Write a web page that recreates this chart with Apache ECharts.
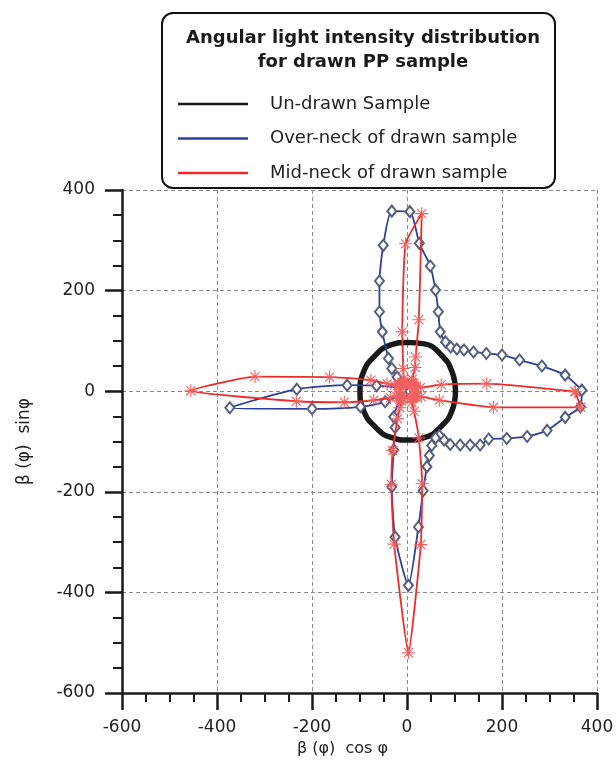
<!DOCTYPE html>
<html>
<head>
<meta charset="utf-8">
<script src="https://cdn.jsdelivr.net/npm/echarts@6/dist/echarts.min.js"></script>
<style>
  html, body { margin: 0; padding: 0; background: #fff; }
  #chart { width: 616px; height: 764px; }
</style>
</head>
<body>
<div id="chart"></div>
<script>
// axis range (both axes share it)
var axisMin = -600;
var axisMax = 400;
var axisStep = 200;

var seriesNames = ['Un-drawn Sample', 'Over-neck of drawn sample', 'Mid-neck of drawn sample'];

// un-drawn sample, roughly round
var undrawn = [
  [102, 0], [95, 38], [72, 72], [37, 94], [2, 97], [-34, 92], [-70, 68], [-92, 37],
  [-99, 0], [-92, -37], [-68, -70], [-34, -92], [2, -97], [38, -92], [72, -70], [95, -38],
  [102, 0]
];

// over-neck, traced clockwise from the right tip
var overNeck = [
  [368, 2], [365, -31], [333, -52], [295, -78], [253, -90], [210, -94], [172, -95],
  [154, -107], [133, -107], [112, -107], [91, -106], [78, -97], [68, -88], [60, -93],
  [52, -108], [47, -128], [42, -150], [34, -198], [24, -270], [3, -386], [-25, -290],
  [-32, -190], [-28, -117], [-25, -72], [-28, -51], [-8, -6], [-46, -21], [-98, -31],
  [-200, -35], [-373, -33], [-232, 4], [-126, 12], [-64, 11], [-8, 6], [-21, 28],
  [-32, 45], [-39, 65], [-52, 118], [-58, 158], [-58, 219], [-50, 290], [-32, 358],
  [6, 357], [26, 294], [49, 249], [60, 201], [66, 158], [70, 118], [81, 98], [92, 88],
  [105, 84], [120, 82], [140, 78], [167, 75], [200, 72], [237, 62], [284, 50], [333, 32],
  [368, 2]
];

// mid-neck, counter-clockwise from 0 deg
var midNeck = [
  [354, -1], [168, 15], [72, 13], [28, 7], [18, 7], [15, 7], [15, 9], [14, 11],
  [13, 12], [12, 13], [11, 14], [10, 16], [10, 18], [11, 24], [17, 47], [18, 68],
  [25, 142], [31, 353], [-3, 293], [-10, 118], [-8, 45], [-7, 25], [-7, 19], [-8, 17],
  [-9, 15], [-10, 14], [-11, 13], [-12, 12], [-14, 12], [-16, 11], [-19, 11], [-26, 12],
  [-42, 15], [-76, 22], [-163, 28], [-320, 29], [-455, 1], [-233, -20], [-132, -22], [-70, -18],
  [-35, -13], [-22, -10], [-17, -10], [-14, -10], [-13, -11], [-12, -12], [-11, -13], [-11, -16],
  [-11, -20], [-15, -33], [-20, -55], [-30, -118], [-33, -185], [-27, -304], [3, -520], [29, -305],
  [32, -184], [25, -93], [15, -40], [10, -22], [9, -15], [10, -14], [11, -13], [13, -13],
  [14, -12], [16, -11], [18, -10], [21, -10], [30, -11], [68, -18], [182, -32], [366, -32],
  [354, -1]
];

var FONT = 'DejaVu Sans';
var asterisk = 'path://M0,-10L0,10M-10,0L10,0M-7,-7L7,7M-7,7L7,-7';

function makeAxis(pos, name) {
  var isX = pos == 'bottom';
  return {
    type: 'value',
    position: pos,
    min: axisMin,
    max: axisMax,
    interval: axisStep,
    name: name,
    nameLocation: 'middle',
    nameGap: isX ? 48 : 89,
    nameTextStyle: isX
      ? { fontFamily: FONT, fontSize: 16, color: '#222', padding: [0, 34, 0, 0] }
      : { fontFamily: FONT, fontSize: 17, color: '#222' },
    axisLine: { show: true, onZero: false, lineStyle: { color: '#1a1a1a', width: 2.5 } },
    axisTick: { show: true, inside: false, length: 17, lineStyle: { color: '#1a1a1a', width: 2.5 } },
    minorTick: { show: true, splitNumber: 4, length: 9, lineStyle: { color: '#1a1a1a', width: 2 } },
    axisLabel: { fontFamily: FONT, fontSize: 17, color: '#222', margin: isX ? 26 : 27 },
    splitLine: { show: true, lineStyle: { color: '#8a8a8a', width: 1, type: [4, 3] } },
    minorSplitLine: { show: false }
  };
}

var chart = echarts.init(document.getElementById('chart'));
chart.setOption({
  animation: false,
  backgroundColor: '#fff',
  grid: { left: 122, right: 19, top: 190, bottom: 71, containLabel: false, outerBoundsMode: 'none' },
  title: {
    text: 'Angular light intensity distribution\nfor drawn PP sample',
    left: 358,
    top: 21,
    textAlign: 'center',
    textStyle: { fontFamily: FONT, fontSize: 18, fontWeight: 'bold', lineHeight: 24, color: '#1a1a1a' }
  },
  graphic: [
    {
      type: 'rect',
      z: 1,
      shape: { x: 162, y: 13, width: 393, height: 175, r: 11 },
      style: { fill: '#fff', stroke: '#111', lineWidth: 2 }
    }
  ],
  legend: {
    orient: 'vertical',
    left: 173,
    top: 89,
    itemWidth: 70,
    itemHeight: 2.5,
    itemGap: 14.5,
    icon: 'rect',
    selectedMode: false,
    textStyle: { fontFamily: FONT, fontSize: 18, color: '#222', lineHeight: 20, padding: [0, 0, 0, 17] },
    data: [
      { name: seriesNames[0], itemStyle: { color: '#1a1a1a', borderWidth: 0 } },
      { name: seriesNames[1], itemStyle: { color: '#2b3f9e', borderWidth: 0 } },
      { name: seriesNames[2], itemStyle: { color: '#ee2a2a', borderWidth: 0 } }
    ]
  },
  xAxis: makeAxis('bottom', 'β (φ)  cos φ'),
  yAxis: makeAxis('left', 'β (φ)  sinφ'),
  series: [
    {
      name: seriesNames[0],
      type: 'line',
      data: undrawn,
      smooth: 0.5,
      symbol: 'none',
      lineStyle: { color: '#1a1a1a', width: 5.5 },
      z: 2
    },
    {
      name: seriesNames[1],
      type: 'line',
      data: overNeck,
      smooth: 0.2,
      symbol: 'emptyDiamond',
      symbolSize: [9, 11],
      itemStyle: { color: '#56607e', borderWidth: 1 },
      lineStyle: { color: '#2b3f9e', width: 1.8 },
      z: 3
    },
    {
      name: seriesNames[2],
      type: 'line',
      data: midNeck,
      smooth: 0.15,
      symbol: asterisk,
      symbolSize: 13,
      itemStyle: { color: 'transparent', borderColor: '#f26060', borderWidth: 1.1 },
      lineStyle: { color: '#ee2a2a', width: 1.8 },
      z: 4
    }
  ]
});
</script>
</body>
</html>
